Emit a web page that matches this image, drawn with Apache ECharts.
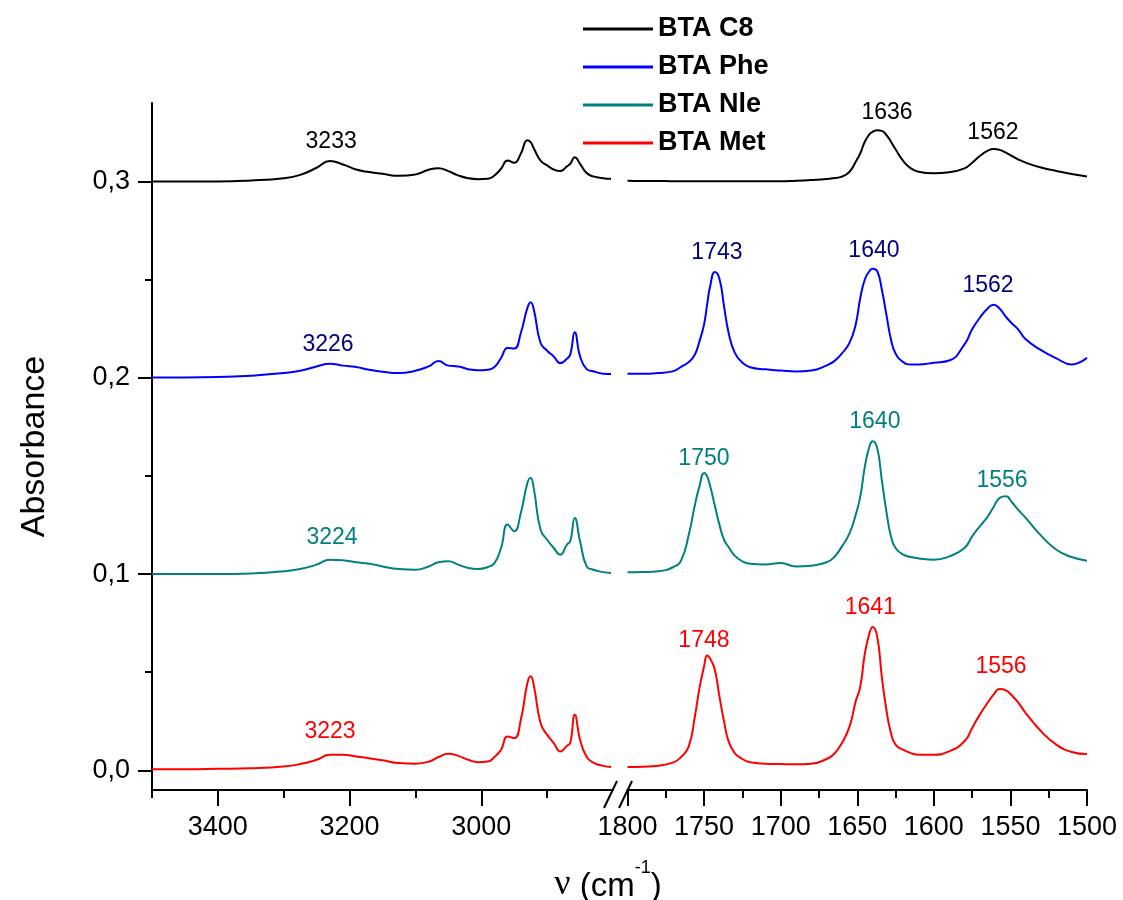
<!DOCTYPE html>
<html><head><meta charset="utf-8">
<script src="https://cdn.jsdelivr.net/npm/echarts@6/dist/echarts.min.js"></script>
<style>html,body{margin:0;padding:0;background:#fff}#c{width:1123px;height:900px}</style>
</head><body><div id="c"></div>
<script>
// ---------- DATA ----------
const seriesNames = ['BTA C8', 'BTA Phe', 'BTA Nle', 'BTA Met'];

// left segment (high wavenumbers), cm-1
const leftX = [3500,3450,3400,3350,3300,3275,3250,3230,3210,3190,3170,3150,3125,3100,3080,3065,3050,3035,3020,3005,2990,2980,2970,2960,2950,2940,2930,2925,2920,2910,2900,2890,2880,2870,2865,2858,2850,2840,2830,2815,2803];
const c8Left  = [0.3000,0.3000,0.3000,0.3005,0.3017,0.3034,0.3070,0.3104,0.3087,0.3061,0.3048,0.3039,0.3029,0.3036,0.3060,0.3068,0.3053,0.3031,0.3017,0.3012,0.3014,0.3031,0.3065,0.3107,0.3095,0.3141,0.3210,0.3200,0.3167,0.3107,0.3082,0.3061,0.3053,0.3077,0.3090,0.3124,0.3090,0.3043,0.3026,0.3017,0.3014];
const pheLeft = [0.2002,0.2002,0.2004,0.2011,0.2024,0.2036,0.2058,0.2072,0.2062,0.2055,0.2041,0.2031,0.2024,0.2036,0.2058,0.2085,0.2062,0.2058,0.2044,0.2038,0.2041,0.2055,0.2101,0.2152,0.2149,0.2228,0.2356,0.2385,0.2344,0.2177,0.2138,0.2109,0.2075,0.2097,0.2118,0.2232,0.2109,0.2044,0.2033,0.2021,0.2019];
const nleLeft = [0.1000,0.1000,0.1000,0.1003,0.1014,0.1026,0.1048,0.1073,0.1070,0.1060,0.1053,0.1039,0.1026,0.1022,0.1039,0.1060,0.1065,0.1048,0.1031,0.1026,0.1036,0.1056,0.1133,0.1252,0.1218,0.1311,0.1464,0.1490,0.1430,0.1226,0.1175,0.1133,0.1099,0.1150,0.1167,0.1286,0.1167,0.1039,0.1022,0.1010,0.1005];
const metLeft = [0.0006,0.0006,0.0008,0.0011,0.0020,0.0032,0.0054,0.0079,0.0079,0.0071,0.0062,0.0051,0.0037,0.0034,0.0044,0.0068,0.0085,0.0074,0.0054,0.0042,0.0045,0.0068,0.0105,0.0173,0.0164,0.0258,0.0445,0.0479,0.0428,0.0241,0.0181,0.0139,0.0096,0.0125,0.0139,0.0283,0.0156,0.0068,0.0040,0.0023,0.0017];

// right segment (low wavenumbers), cm-1
const rightX = [1800,1790,1780,1770,1765,1760,1756,1753,1750,1748,1746,1743,1740,1737,1734,1730,1725,1720,1710,1700,1690,1680,1670,1665,1660,1655,1651,1648,1645,1642,1640,1637,1634,1631,1628,1625,1620,1615,1610,1600,1590,1580,1575,1570,1565,1561,1557,1553,1549,1545,1540,1530,1520,1510,1500];
const c8Right  = [0.3004,0.3003,0.3003,0.3001,0.3001,0.3001,0.3001,0.3001,0.3001,0.3001,0.3001,0.3001,0.3001,0.3001,0.3001,0.3001,0.3001,0.3001,0.3001,0.3001,0.3004,0.3008,0.3013,0.3018,0.3025,0.3050,0.3101,0.3144,0.3204,0.3241,0.3253,0.3261,0.3258,0.3237,0.3203,0.3164,0.3105,0.3067,0.3050,0.3042,0.3047,0.3067,0.3096,0.3130,0.3156,0.3166,0.3161,0.3147,0.3130,0.3113,0.3096,0.3071,0.3054,0.3038,0.3025];
const pheRight = [0.2020,0.2020,0.2024,0.2034,0.2056,0.2080,0.2119,0.2187,0.2272,0.2374,0.2468,0.2539,0.2505,0.2366,0.2230,0.2128,0.2077,0.2054,0.2043,0.2037,0.2032,0.2037,0.2063,0.2085,0.2124,0.2179,0.2272,0.2408,0.2502,0.2544,0.2556,0.2544,0.2451,0.2323,0.2196,0.2124,0.2080,0.2068,0.2068,0.2077,0.2088,0.2170,0.2247,0.2306,0.2352,0.2372,0.2352,0.2311,0.2277,0.2247,0.2196,0.2141,0.2099,0.2068,0.2102];
const nleRight = [0.1009,0.1010,0.1014,0.1036,0.1070,0.1200,0.1352,0.1448,0.1515,0.1498,0.1447,0.1349,0.1252,0.1175,0.1138,0.1094,0.1065,0.1053,0.1049,0.1056,0.1039,0.1043,0.1060,0.1087,0.1141,0.1209,0.1303,0.1396,0.1549,0.1651,0.1677,0.1643,0.1481,0.1320,0.1192,0.1133,0.1099,0.1087,0.1080,0.1073,0.1090,0.1133,0.1192,0.1243,0.1291,0.1342,0.1388,0.1396,0.1366,0.1328,0.1286,0.1196,0.1124,0.1087,0.1068];
const metRight = [0.0017,0.0019,0.0024,0.0041,0.0068,0.0122,0.0275,0.0420,0.0530,0.0585,0.0568,0.0513,0.0377,0.0250,0.0148,0.0088,0.0058,0.0041,0.0034,0.0032,0.0031,0.0034,0.0058,0.0085,0.0139,0.0224,0.0352,0.0428,0.0598,0.0700,0.0731,0.0683,0.0479,0.0309,0.0190,0.0131,0.0105,0.0088,0.0080,0.0080,0.0097,0.0148,0.0216,0.0284,0.0343,0.0386,0.0415,0.0408,0.0381,0.0347,0.0292,0.0199,0.0131,0.0094,0.0083];

// peak annotations: [x (cm-1), y (absorbance), text]
const c8PeaksL  = [[3228, 0.3202, '3233']];
const c8PeaksR  = [[1630.6, 0.3349, '1636'], [1561.4, 0.3247, '1562']];
const phePeaksL = [[3232.7, 0.2168, '3226']];
const phePeaksR = [[1741.6, 0.2636, '1743'], [1639.1, 0.2647, '1640'], [1564.6, 0.2468, '1562']];
const nlePeaksL = [[3226.6, 0.1185, '3224']];
const nlePeaksR = [[1750.1, 0.1588, '1750'], [1638.5, 0.1776, '1640'], [1555.5, 0.1476, '1556']];
const metPeaksL = [[3229.6, 0.0198, '3223']];
const metPeaksR = [[1750.1, 0.0661, '1748'], [1641.5, 0.0829, '1641'], [1556.1, 0.0529, '1556']];

// ticks
const leftMajorTicks = [3400, 3200, 3000];
const leftMinorTicks = [3500, 3300, 3100, 2900];
const yMajorTicks = [0, 0.1, 0.2, 0.3];
const yMinorTicks = [0.05, 0.15, 0.25];

// ---------- CHART ----------
const FONT = "'Liberation Sans', Arial, Helvetica, sans-serif";
const colors = ['#000000', '#0000ff', '#008080', '#ff0000'];
const labelColors = ['#000000', '#000080', '#008080', '#ff0000'];
const leftY = [c8Left, pheLeft, nleLeft, metLeft];
const rightY = [c8Right, pheRight, nleRight, metRight];
const peaksL = [c8PeaksL, phePeaksL, nlePeaksL, metPeaksL];
const peaksR = [c8PeaksR, phePeaksR, nlePeaksR, metPeaksR];

const YMIN = -0.01, YMAX = 0.34;
const black = { color: '#000', width: 2 };

function markPts(arr, i) {
  return {
    symbol: 'circle', symbolSize: 1, silent: true, animation: false,
    itemStyle: { color: 'rgba(0,0,0,0)' },
    label: { show: true, position: 'inside', color: labelColors[i], fontSize: 23, fontFamily: FONT },
    data: arr.map(p => ({ coord: [p[0], p[1]], label: { formatter: p[2] } }))
  };
}

const series = [];
seriesNames.forEach((name, i) => {
  const common = {
    type: 'line', name, symbol: 'none', showSymbol: false,
    smooth: 0.5,
    lineStyle: { color: colors[i], width: 2 }, itemStyle: { color: colors[i] },
    emphasis: { disabled: true }, animation: false, z: 2 + i
  };
  series.push(Object.assign({}, common, {
    xAxisIndex: 0, yAxisIndex: 0,
    data: leftX.map((x, k) => [x, leftY[i][k]]),
    markPoint: markPts(peaksL[i], i)
  }));
  series.push(Object.assign({}, common, {
    xAxisIndex: 2, yAxisIndex: 2,
    data: rightX.map((x, k) => [x, rightY[i][k]]),
    markPoint: markPts(peaksR[i], i)
  }));
});

const tickLabel = { color: '#000', fontSize: 27, fontFamily: FONT };
const plain = v => String(Math.round(v));

const option = {
  animation: false,
  backgroundColor: '#fff',
  grid: [
    { left: 152, top: 103, width: 461, height: 687 },
    { left: 627.5, top: 103, width: 459.5, height: 687 }
  ],
  legend: {
    data: seriesNames, orient: 'vertical', left: 583, top: 15, padding: 0,
    icon: 'rect', itemWidth: 70, itemHeight: 3, itemGap: 10,
    selectedMode: false,
    textStyle: { color: '#000', fontSize: 27, fontWeight: 'bold', fontFamily: FONT, lineHeight: 28 }
  },
  xAxis: [
    { type: 'value', gridIndex: 0, position: 'bottom', min: 2800, max: 3500, inverse: true,
      axisLine: { show: true, onZero: false, lineStyle: black },
      axisTick: { show: true, customValues: leftMajorTicks, length: 16, lineStyle: black },
      axisLabel: Object.assign({ customValues: leftMajorTicks, margin: 24, formatter: plain }, tickLabel),
      splitLine: { show: false } },
    { type: 'value', gridIndex: 0, position: 'bottom', min: 2800, max: 3500, inverse: true,
      axisLine: { show: false, onZero: false },
      axisTick: { show: true, customValues: leftMinorTicks, length: 8, lineStyle: black },
      axisLabel: { show: false }, splitLine: { show: false } },
    { type: 'value', gridIndex: 1, position: 'bottom', min: 1500, max: 1800, interval: 50, inverse: true,
      axisLine: { show: true, onZero: false, lineStyle: black },
      axisTick: { show: true, length: 16, lineStyle: black },
      minorTick: { show: true, splitNumber: 2, length: 8, lineStyle: black },
      axisLabel: Object.assign({ margin: 24, showMinLabel: true, showMaxLabel: true, formatter: plain }, tickLabel),
      splitLine: { show: false }, minorSplitLine: { show: false } }
  ],
  yAxis: [
    { type: 'value', gridIndex: 0, position: 'left', min: YMIN, max: YMAX,
      axisLine: { show: true, onZero: false, lineStyle: black },
      axisTick: { show: true, customValues: yMajorTicks, length: 14, lineStyle: black },
      axisLabel: Object.assign({ customValues: yMajorTicks, margin: 22,
        formatter: v => v.toFixed(1).replace('.', ',') }, tickLabel),
      splitLine: { show: false },
      name: 'Absorbance', nameLocation: 'middle', nameGap: 100,
      nameTextStyle: { color: '#000', fontSize: 34, fontFamily: FONT } },
    { type: 'value', gridIndex: 0, position: 'left', min: YMIN, max: YMAX,
      axisLine: { show: false, onZero: false },
      axisTick: { show: true, customValues: yMinorTicks, length: 7, lineStyle: black },
      axisLabel: { show: false }, splitLine: { show: false } },
    { type: 'value', gridIndex: 1, min: YMIN, max: YMAX, show: false, splitLine: { show: false } }
  ],
  graphic: [
    { type: 'line', silent: true, shape: { x1: 604, y1: 808, x2: 617, y2: 781 }, style: { stroke: '#000', lineWidth: 2 } },
    { type: 'line', silent: true, shape: { x1: 619, y1: 808, x2: 632, y2: 781 }, style: { stroke: '#000', lineWidth: 2 } },
    { type: 'text', silent: true, x: 608, y: 881,
      style: {
        text: '{nu|ν}{a| (cm}{s|-1}{a|)}',
        align: 'center', verticalAlign: 'middle', fill: '#000',
        rich: {
          nu: { fontSize: 36, fontFamily: "'Liberation Serif', 'Times New Roman', serif", lineHeight: 44, verticalAlign: 'bottom', fill: '#000' },
          a: { fontSize: 33, fontFamily: FONT, lineHeight: 36, verticalAlign: 'bottom', fill: '#000' },
          s: { fontSize: 18, fontFamily: FONT, lineHeight: 20, verticalAlign: 'top', fill: '#000' }
        }
      } }
  ],
  series
};

const chart = echarts.init(document.getElementById('c'), null, { renderer: 'canvas', width: 1123, height: 900 });
chart.setOption(option);
</script>
</body></html>
